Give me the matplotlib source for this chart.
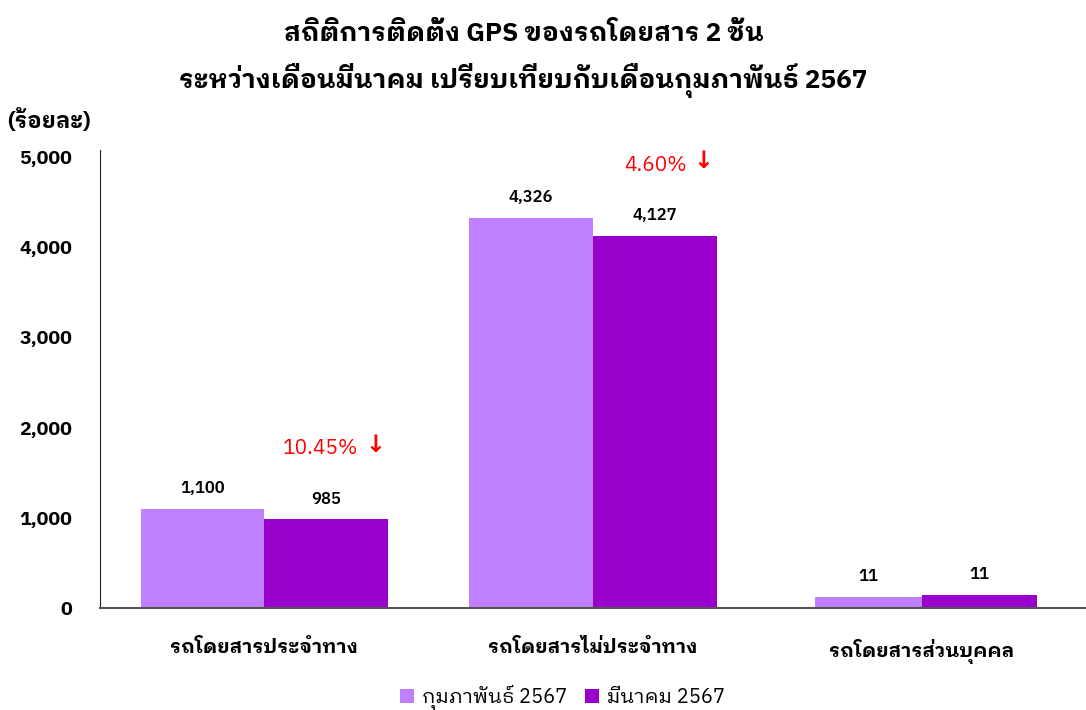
import matplotlib
matplotlib.use("Agg")
import matplotlib.pyplot as plt
import numpy as np

# data
categories = ["รถโดยสารประจำทาง", "รถโดยสารไม่ประจำทาง", "รถโดยสารส่วนบุคคล"]
series_names = ["กุมภาพันธ์ 2567", "มีนาคม 2567"]
feb_values = [1100, 4326, 125]
mar_values = [985, 4127, 148]
feb_labels = ["1,100", "4,326", "11"]
mar_labels = ["985", "4,127", "11"]
change_labels = ["10.45%", "4.60%", ""]
yticks = [0, 1000, 2000, 3000, 4000, 5000]

LIGHT = "#bf7fff"
DARK = "#9900cc"
# the last group is drawn a bit narrower in the original
feb_widths = [0.376, 0.376, 0.324]
mar_widths = [0.376, 0.376, 0.352]

plt.rcParams["font.family"] = ["IBM Plex Sans Thai Looped", "Noto Sans Thai", "DejaVu Sans"]

fig = plt.figure(figsize=(10.86, 7.10), dpi=100)
ax = fig.add_axes([0.0921, 0.1437, 0.9079, 0.6451])

x = np.arange(len(categories))
b1 = ax.bar(x, feb_values, [-v for v in feb_widths], align="edge", color=LIGHT,
            label=series_names[0])
b2 = ax.bar(x, mar_values, mar_widths, align="edge", color=DARK, label=series_names[1])

for bars, labels in [(b1, feb_labels), (b2, mar_labels)]:
    for rect, lab in zip(bars, labels):
        ax.annotate(lab, (rect.get_x() + rect.get_width() / 2, rect.get_height()),
                    xytext=(0, 9), textcoords="offset points", ha="center",
                    va="bottom", fontsize=12, fontweight=600)

# percent change above the March bars
for xi, top, wd, lab in zip(x, mar_values, mar_widths, change_labels):
    if lab:
        cx = xi + wd / 2
        ax.annotate(lab, (cx, top), xytext=(23, 44), textcoords="offset points",
                    ha="right", va="bottom", fontsize=15, color="red")
        ax.annotate("↓", (cx, top), xytext=(28, 45), textcoords="offset points",
                    ha="left", va="bottom", fontsize=17, color="red",
                    family="DejaVu Sans", fontweight="bold")

ax.set_xlim(-0.5, len(categories) - 0.5)
ax.set_ylim(0, 5080)
ax.set_yticks(yticks)
ax.set_yticklabels([f"{v:,}" for v in yticks], fontsize=14, fontweight="bold")
ax.set_xticks(x)
ax.set_xticklabels(categories, fontsize=14, fontweight="bold")
ax.tick_params(axis="both", length=0)
ax.tick_params(axis="y", pad=20)
ax.tick_params(axis="x", pad=22)
for s in ["top", "right"]:
    ax.spines[s].set_visible(False)
ax.spines["left"].set_color("#222222")
ax.spines["bottom"].set_color("#555555")
ax.spines["bottom"].set_linewidth(1.5)

fig.text(0.007, 0.831, "(ร้อยละ)", fontsize=16, fontweight="bold", ha="left", va="center")
fig.text(0.482, 0.952, "สถิติการติดตั้ง GPS ของรถโดยสาร 2 ชั้น", fontsize=18.8,
         fontweight="bold", ha="center", va="center")
fig.text(0.482, 0.886, "ระหว่างเดือนมีนาคม เปรียบเทียบกับเดือนกุมภาพันธ์ 2567", fontsize=18.8,
         fontweight="bold", ha="center", va="center")

fig.legend(loc="center", bbox_to_anchor=(0.518, 0.018), ncol=2, frameon=False,
           fontsize=14.5, handlelength=0.7, handleheight=0.7, handletextpad=0.4,
           columnspacing=0.9)

fig.savefig("out.png", dpi=100)
